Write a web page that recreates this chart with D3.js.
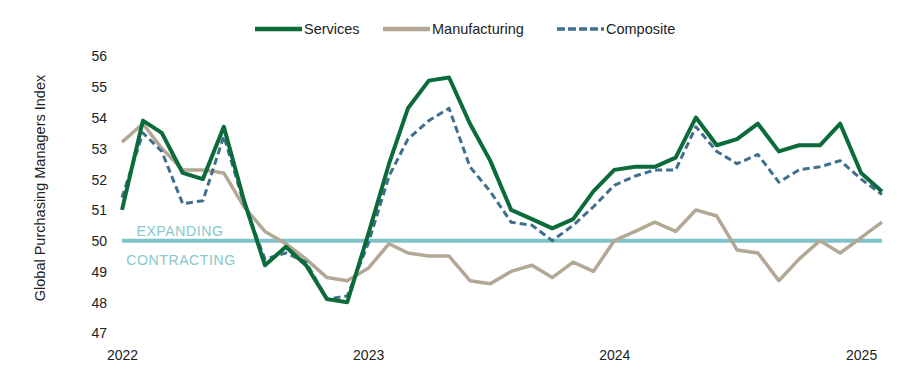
<!DOCTYPE html>
<html>
<head>
<meta charset="utf-8">
<script src="https://cdn.jsdelivr.net/npm/d3@7"></script>
<style>
  html, body { margin: 0; padding: 0; background: #fff; }
  svg { display: block; font-family: "Liberation Sans", "DejaVu Sans", sans-serif; }
</style>
</head>
<body>
<svg id="chart" width="921" height="389"></svg>
<script>
// ---- Data (monthly, Jan 2022 – Feb 2025) ----
const startMonth = "2022-01";
const services = [51.0,53.9,53.5,52.2,52.0,53.7,51.3,49.2,49.8,49.2,48.1,48.0,
                  50.2,52.5,54.3,55.2,55.3,53.8,52.6,51.0,50.7,50.4,50.7,51.6,
                  52.3,52.4,52.4,52.7,54.0,53.1,53.3,53.8,52.9,53.1,53.1,53.8,
                  52.2,51.6];
const manufacturing = [53.2,53.8,53.0,52.3,52.3,52.2,51.1,50.3,49.9,49.4,48.8,48.7,
                       49.1,49.9,49.6,49.5,49.5,48.7,48.6,49.0,49.2,48.8,49.3,49.0,
                       50.0,50.3,50.6,50.3,51.0,50.8,49.7,49.6,48.7,49.4,50.0,49.6,
                       50.1,50.6];
const composite = [51.4,53.5,52.9,51.2,51.3,53.4,51.2,49.4,49.6,49.3,48.1,48.2,
                   49.9,52.1,53.3,53.9,54.3,52.4,51.6,50.6,50.5,50.0,50.5,51.1,
                   51.8,52.1,52.3,52.3,53.7,52.9,52.5,52.8,51.9,52.3,52.4,52.6,
                   52.0,51.5];
const yTicks = [47,48,49,50,51,52,53,54,55,56];
const xTickLabels = ["2022","2023","2024","2025"];
const seriesNames = ["Services","Manufacturing","Composite"];
const threshold = 50;
const zoneLabels = ["EXPANDING","CONTRACTING"];
const yTitle = "Global Purchasing Managers Index";

// ---- Setup ----
const svg = d3.select("#chart");
const parse = d3.timeParse("%Y-%m");
const t0 = parse(startMonth);
const dates = services.map((_, i) => d3.timeMonth.offset(t0, i));

const x = d3.scaleTime().domain([dates[0], dates[dates.length - 1]]).range([122, 882]);
const y = d3.scaleLinear().domain([47, 56]).range([333, 56]);

const colors = { Services: "#0b6b3a", Manufacturing: "#b3a795", Composite: "#3f6f8c" };
const widths = { Services: 4, Manufacturing: 3.5, Composite: 3 };
const dashes = { Services: null, Manufacturing: null, Composite: "7,4" };
const dataBy = { Services: services, Manufacturing: manufacturing, Composite: composite };

// ---- Axes ----
const yAxis = d3.axisLeft(y).tickValues(yTicks).tickSize(0).tickPadding(0);
const gy = svg.append("g").attr("transform", "translate(107,0)").call(yAxis);
gy.select(".domain").remove();
gy.selectAll("text").attr("font-size", 14).attr("fill", "#222").attr("dy", "0.35em");

const xTickDates = xTickLabels.map(s => d3.timeParse("%Y")(s));
const xAxis = d3.axisBottom(x).tickValues(xTickDates).tickFormat(d3.timeFormat("%Y")).tickSize(0).tickPadding(0);
const gx = svg.append("g").attr("transform", "translate(0,349)").call(xAxis);
gx.select(".domain").remove();
gx.selectAll("text").attr("font-size", 14).attr("fill", "#222").attr("dy", "0.75em");

// y title
svg.append("text")
  .attr("transform", "translate(45,188) rotate(-90)")
  .attr("text-anchor", "middle")
  .attr("font-size", 14.5)
  .attr("fill", "#222")
  .text(yTitle);

// ---- Threshold line ----
svg.append("line")
  .attr("x1", x(dates[0])).attr("x2", x(dates[dates.length - 1]))
  .attr("y1", y(threshold)).attr("y2", y(threshold))
  .attr("stroke", "#7fc3c9").attr("stroke-width", 4);

svg.append("text")
  .attr("x", 180).attr("y", y(threshold) - 5)
  .attr("text-anchor", "middle").attr("font-size", 14).attr("letter-spacing", 0.6)
  .attr("fill", "#86c8cc").text(zoneLabels[0]);
svg.append("text")
  .attr("x", 181).attr("y", y(threshold) + 24)
  .attr("text-anchor", "middle").attr("font-size", 14).attr("letter-spacing", 0.6)
  .attr("fill", "#86c8cc").text(zoneLabels[1]);

// ---- Lines ----
const line = d3.line().x((d, i) => x(dates[i])).y(d => y(d));
["Manufacturing", "Composite", "Services"].forEach(name => {
  svg.append("path")
    .datum(dataBy[name])
    .attr("fill", "none")
    .attr("stroke", colors[name])
    .attr("stroke-width", widths[name])
    .attr("stroke-dasharray", dashes[name])
    .attr("stroke-linejoin", "round")
    .attr("d", line);
});

// ---- Legend ----
const legendX = [255, 383, 557];
const leg = svg.append("g");
seriesNames.forEach((name, i) => {
  const g = leg.append("g").attr("transform", `translate(${legendX[i]},29)`);
  g.append("line").attr("x1", 0).attr("x2", 47).attr("y1", 0).attr("y2", 0)
    .attr("stroke", colors[name]).attr("stroke-width", name === "Composite" ? 3.5 : 4.5)
    .attr("stroke-dasharray", name === "Composite" ? "8,3" : null);
  g.append("text").attr("x", 49).attr("y", 0).attr("dy", "0.35em")
    .attr("font-size", 14.5).attr("fill", "#222").text(name);
});
</script>
</body>
</html>
